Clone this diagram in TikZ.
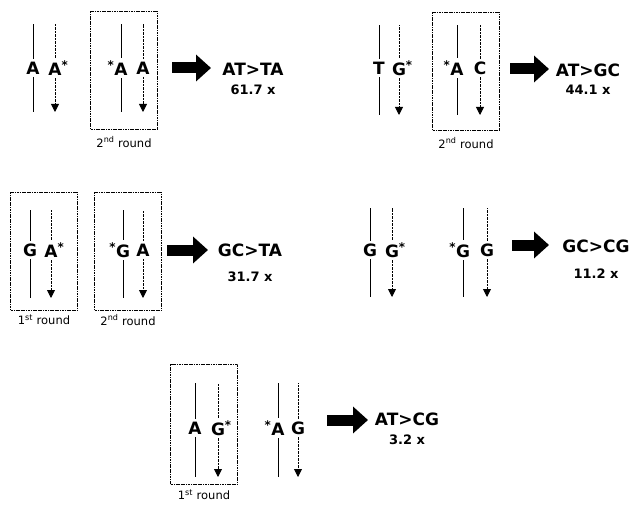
\documentclass[tikz,border=0pt]{standalone}
\usepackage{fontspec}
\setmainfont{DejaVu Sans}
\usetikzlibrary{arrows.meta,positioning}

\begin{document}
\begin{tikzpicture}[
  x=1pt, y=-1pt,
  base/.style={font=\fontsize{17}{17}\selectfont\bfseries, inner sep=2.5pt},
  res/.style={font=\fontsize{17}{17}\selectfont\bfseries, inner sep=0pt},
  fold/.style={font=\fontsize{13}{13}\selectfont\bfseries, inner sep=0pt},
  rnd/.style={font=\fontsize{11.5}{11.5}\selectfont, inner sep=0pt},
  box/.style={draw, dash pattern=on 1.2pt off 0.5pt, line width=0.8pt, minimum width=67pt, minimum height=118pt},
  strand/.style={line width=0.9pt},
  copy/.style={line width=0.9pt, dash pattern=on 2.5pt off 1pt},
  tip/.style={-{Triangle[length=8pt,width=8pt]}},
  fat/.style={line width=11pt, -{Triangle[length=15pt,width=26pt]}}
]
\useasboundingbox (0,0) rectangle (637,505);

% AT>TA
\node[base] (a1) at (33,68) {A};
\node[base] (a2) at (55,68) {A\rlap{\textsuperscript{*}}};
\node[box] (b1) at (124,70) {};
\node[base] (a3) at (121,68) {\llap{\textsuperscript{*}}A};
\node[base] (a4) at (143,68) {A};
\node[rnd, below=7pt of b1] (l1) {2\textsuperscript{nd} round};
\coordinate (top1) at (0,24);
\coordinate (bot1) at (0,112);
\draw[strand] (a1.north) -- (a1 |- top1);
\draw[strand] (a1.south) -- (a1 |- bot1);
\draw[copy] (a2.north) -- (a2 |- top1);
\draw[copy, tip] (a2.south) -- (a2 |- bot1);
\draw[strand] (a3.north) -- (a3 |- top1);
\draw[strand] (a3.south) -- (a3 |- bot1);
\draw[copy] (a4.north) -- (a4 |- top1);
\draw[copy, tip] (a4.south) -- (a4 |- bot1);
\coordinate (f1) at (172,68);
\coordinate (g1) at (211,68);
\draw[fat] (f1) -- (g1);
\node[res] (r1) at (253,69) {AT>TA};
\node[fold, below=9pt of r1] (n1) {61.7 x};

% AT>GC
\node[base] (c1) at (379,68) {T};
\node[base] (c2) at (399,68) {G\rlap{\textsuperscript{*}}};
\node[box] (b2) at (466,71) {};
\node[base] (c3) at (457,68) {\llap{\textsuperscript{*}}A};
\node[base] (c4) at (480,68) {C};
\node[rnd, below=7pt of b2] (l2) {2\textsuperscript{nd} round};
\coordinate (top2) at (0,25);
\coordinate (bot2) at (0,115);
\draw[strand] (c1.north) -- (c1 |- top2);
\draw[strand] (c1.south) -- (c1 |- bot2);
\draw[copy] (c2.north) -- (c2 |- top2);
\draw[copy, tip] (c2.south) -- (c2 |- bot2);
\draw[strand] (c3.north) -- (c3 |- top2);
\draw[strand] (c3.south) -- (c3 |- bot2);
\draw[copy] (c4.north) -- (c4 |- top2);
\draw[copy, tip] (c4.south) -- (c4 |- bot2);
\coordinate (f2) at (510,69);
\coordinate (g2) at (549,69);
\draw[fat] (f2) -- (g2);
\node[res] (r2) at (588,70) {AT>GC};
\node[fold, below=8pt of r2] (n2) {44.1 x};

% GC>TA
\node[box] (b3) at (44,251) {};
\node[base] (d1) at (30,250) {G};
\node[base] (d2) at (51,250) {A\rlap{\textsuperscript{*}}};
\node[rnd, below=4pt of b3] (l3) {1\textsuperscript{st} round};
\node[box] (b4) at (128,251) {};
\node[base] (d3) at (123,250) {\llap{\textsuperscript{*}}G};
\node[base] (d4) at (143,250) {A};
\node[rnd, below=4pt of b4] (l4) {2\textsuperscript{nd} round};
\coordinate (top3) at (0,210);
\coordinate (bot3) at (0,298);
\draw[strand] (d1.north) -- (d1 |- top3);
\draw[strand] (d1.south) -- (d1 |- bot3);
\draw[copy] (d2.north) -- (d2 |- top3);
\draw[copy, tip] (d2.south) -- (d2 |- bot3);
\draw[strand] (d3.north) -- (d3 |- top3);
\draw[strand] (d3.south) -- (d3 |- bot3);
\draw[copy] (d4.north) -- (d4 |- top3);
\draw[copy, tip] (d4.south) -- (d4 |- bot3);
\coordinate (f3) at (167,250);
\coordinate (g3) at (208,250);
\draw[fat] (f3) -- (g3);
\node[res] (r3) at (250,250) {GC>TA};
\node[fold, below=15pt of r3] (n3) {31.7 x};

% GC>CG
\node[base] (e1) at (370,250) {G};
\node[base] (e2) at (392,250) {G\rlap{\textsuperscript{*}}};
\node[base] (e3) at (463,250) {\llap{\textsuperscript{*}}G};
\node[base] (e4) at (487,250) {G};
\coordinate (top4) at (0,208);
\coordinate (bot4) at (0,297);
\draw[strand] (e1.north) -- (e1 |- top4);
\draw[strand] (e1.south) -- (e1 |- bot4);
\draw[copy] (e2.north) -- (e2 |- top4);
\draw[copy, tip] (e2.south) -- (e2 |- bot4);
\draw[strand] (e3.north) -- (e3 |- top4);
\draw[strand] (e3.south) -- (e3 |- bot4);
\draw[copy] (e4.north) -- (e4 |- top4);
\draw[copy, tip] (e4.south) -- (e4 |- bot4);
\coordinate (f4) at (512,245);
\coordinate (g4) at (549,245);
\draw[fat] (f4) -- (g4);
\node[res] (r4) at (596,246) {GC>CG};
\node[fold, below=16pt of r4] (n4) {11.2 x};

% AT>CG
\node[box, minimum height=120pt] (b5) at (204,424) {};
\node[base] (h1) at (195,428) {A};
\node[base] (h2) at (218,428) {G\rlap{\textsuperscript{*}}};
\node[rnd, below=5pt of b5] (l5) {1\textsuperscript{st} round};
\node[base] (h3) at (278,428) {\llap{\textsuperscript{*}}A};
\node[base] (h4) at (298,428) {G};
\coordinate (top5) at (0,383);
\coordinate (bot5) at (0,477);
\draw[strand] (h1.north) -- (h1 |- top5);
\draw[strand] (h1.south) -- (h1 |- bot5);
\draw[copy] (h2.north) -- (h2 |- top5);
\draw[copy, tip] (h2.south) -- (h2 |- bot5);
\draw[strand] (h3.north) -- (h3 |- top5);
\draw[strand] (h3.south) -- (h3 |- bot5);
\draw[copy] (h4.north) -- (h4 |- top5);
\draw[copy, tip] (h4.south) -- (h4 |- bot5);
\coordinate (f5) at (327,420);
\coordinate (g5) at (368,420);
\draw[fat] (f5) -- (g5);
\node[res] (r5) at (407,419) {AT>CG};
\node[fold, below=9pt of r5] (n5) {3.2 x};
\end{tikzpicture}
\end{document}
